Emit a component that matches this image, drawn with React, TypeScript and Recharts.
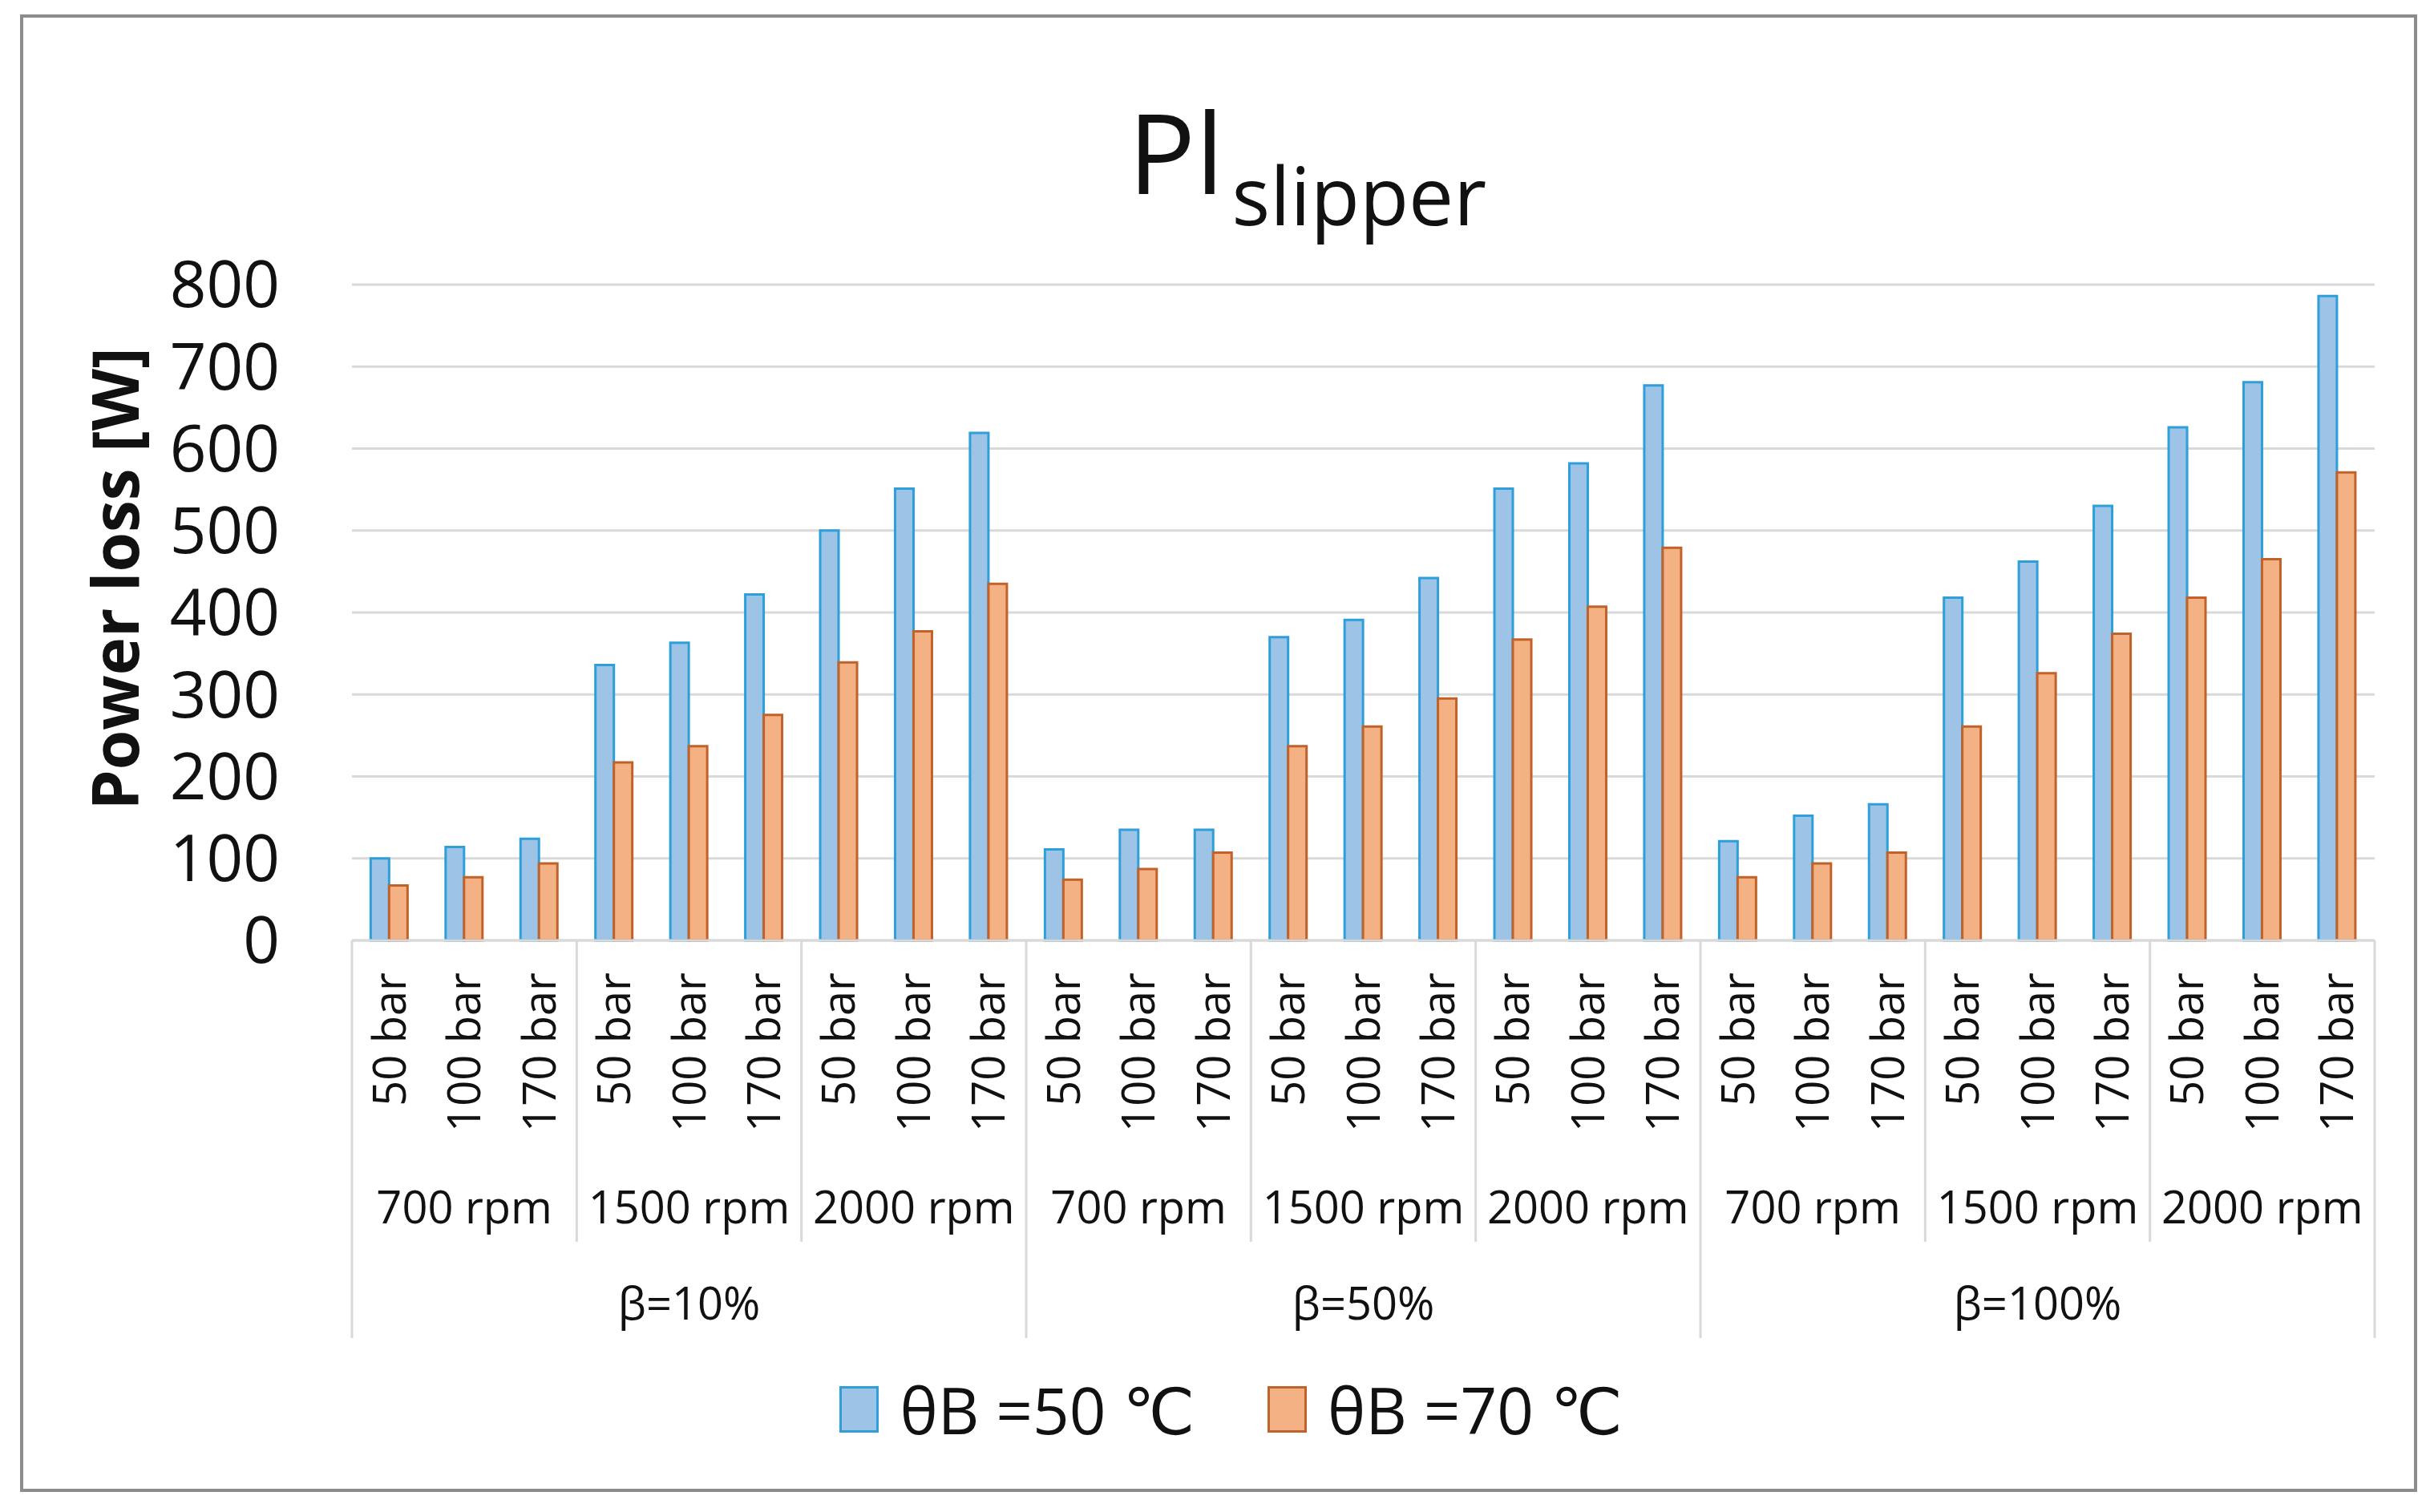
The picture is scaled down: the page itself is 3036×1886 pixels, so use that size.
import React from "react";
import { BarChart, Bar, XAxis, YAxis, CartesianGrid, Legend } from "recharts";

// three-level category axis: beta -> speed -> pressure
const BETAS = ["β=10%", "β=50%", "β=100%"];
const SPEEDS = ["700 rpm", "1500 rpm", "2000 rpm"];
const PRESSURES = ["50 bar", "100 bar", "170 bar"];

// power loss [W]
const LOSS_50C = [
  100, 114, 124, 336, 363, 422, 500, 551, 619,
  111, 135, 135, 370, 391, 442, 551, 582, 677,
  121, 152, 166, 418, 462, 530, 626, 681, 786,
];
const LOSS_70C = [
  67, 77, 94, 217, 237, 275, 339, 377, 435,
  74, 87, 107, 237, 261, 295, 367, 407, 479,
  77, 94, 107, 261, 326, 374, 418, 465, 571,
];

const Y_TICKS = [0, 100, 200, 300, 400, 500, 600, 700, 800];

const SERIES = [
  { key: "t50", name: "θB =50 ℃", fill: "#9dc3e6", stroke: "#2e9fd8" },
  { key: "t70", name: "θB =70 ℃", fill: "#f4b183", stroke: "#c0622a" },
];

const data = LOSS_50C.map((v, i) => ({
  id: `c${i}`,
  beta: BETAS[Math.floor(i / 9)],
  speed: SPEEDS[Math.floor(i / 3) % 3],
  pressure: PRESSURES[i % 3],
  t50: v,
  t70: LOSS_70C[i],
}));

const FONT = "'Open Sans', 'DejaVu Sans', sans-serif";
const CHART_W = 2982;
const CHART_H = 1835;
const MARGIN = { top: 333, right: 49, bottom: 10, left: 0 };
const Y_AXIS_W = 410;
const X_AXIS_H = 496;
const BAND = (CHART_W - MARGIN.left - MARGIN.right - Y_AXIS_W) / data.length;
const SEP = "#d9d9d9";

const GroupTick = (props: any) => {
  const { x, y, payload } = props;
  const i = payload.index;
  const d = data[i];
  const lx = x + 20;
  const ly = y + 40;
  const left = x - BAND / 2;
  return (
    <g fontFamily={FONT} fill="#111">
      <text
        x={lx}
        y={ly}
        transform={`rotate(-90 ${lx} ${ly})`}
        textAnchor="end"
        fontSize={56}
      >
        {d.pressure}
      </text>
      {i % 3 === 1 && (
        <text x={x} y={y + 353} textAnchor="middle" fontSize={56}>
          {d.speed}
        </text>
      )}
      {i % 9 === 4 && (
        <text x={x} y={y + 473} textAnchor="middle" fontSize={56}>
          {d.beta}
        </text>
      )}
      {i % 3 === 0 && (
        <line
          x1={left}
          x2={left}
          y1={y}
          y2={y + (i % 9 === 0 ? X_AXIS_H : 376)}
          stroke={SEP}
          strokeWidth={3}
        />
      )}
      {i === data.length - 1 && (
        <line
          x1={x + BAND / 2}
          x2={x + BAND / 2}
          y1={y}
          y2={y + X_AXIS_H}
          stroke={SEP}
          strokeWidth={3}
        />
      )}
    </g>
  );
};

const LegendContent = () => (
  <div
    style={{
      height: 178,
      display: "flex",
      alignItems: "center",
      justifyContent: "center",
      paddingLeft: 80,
      fontFamily: FONT,
    }}
  >
    {SERIES.map((s, idx) => (
      <div
        key={s.key}
        style={{
          display: "flex",
          alignItems: "center",
          marginLeft: idx === 0 ? 0 : 91,
        }}
      >
        <div
          style={{
            width: 49,
            height: 58,
            background: s.fill,
            border: `3px solid ${s.stroke}`,
            boxSizing: "border-box",
          }}
        />
        <span style={{ marginLeft: 26, fontSize: 80, color: "#111", lineHeight: 1 }}>
          {s.name}
        </span>
      </div>
    ))}
  </div>
);

export default function App() {
  return (
    <div style={{ padding: "10px 0 0 17px" }}>
      <div
        style={{
          position: "relative",
          width: CHART_W,
          height: CHART_H,
          border: "4px solid #8c8c8c",
          background: "#fff",
          fontFamily: FONT,
        }}
      >
        <BarChart
          width={CHART_W}
          height={CHART_H}
          data={data}
          margin={MARGIN}
          barCategoryGap="25%"
          barGap={0}
        >
          <CartesianGrid vertical={false} stroke={SEP} strokeWidth={3} />
          <XAxis
            dataKey="id"
            interval={0}
            height={X_AXIS_H}
            tickLine={false}
            tickSize={0}
            tickMargin={0}
            axisLine={{ stroke: SEP, strokeWidth: 3 }}
            tick={(p: any) => <GroupTick {...p} />}
          />
          <YAxis
            width={Y_AXIS_W}
            domain={[0, 800]}
            ticks={Y_TICKS}
            axisLine={false}
            tickLine={false}
            tickSize={0}
            tickMargin={90}
            tick={{ fontSize: 80, fill: "#111", fontFamily: FONT }}
          />
          <Legend verticalAlign="bottom" content={<LegendContent />} />
          {SERIES.map((s) => (
            <Bar
              key={s.key}
              dataKey={s.key}
              name={s.name}
              fill={s.fill}
              stroke={s.stroke}
              strokeWidth={3}
              isAnimationActive={false}
            />
          ))}
        </BarChart>
        <svg
          width={CHART_W}
          height={CHART_H}
          style={{ position: "absolute", left: 0, top: 0, pointerEvents: "none" }}
        >
          <text x={1378} y={220} fontSize={140} fill="#111" fontFamily={FONT}>
            Pl
            <tspan fontSize={100} dy={39} dx={10}>
              slipper
            </tspan>
          </text>
          <text
            x={144}
            y={700}
            transform="rotate(-90 144 700)"
            textAnchor="middle"
            fontSize={80}
            fontWeight="bold"
            fill="#111"
            fontFamily={FONT}
          >
            Power loss [W]
          </text>
        </svg>
      </div>
    </div>
  );
}
